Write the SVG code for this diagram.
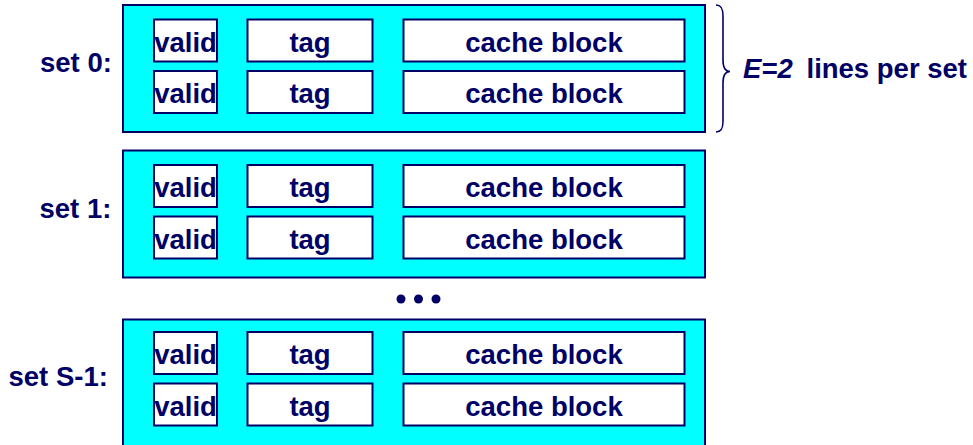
<svg xmlns="http://www.w3.org/2000/svg" width="973" height="445" viewBox="0 0 973 445">
<style>
.set{fill:#00FFFF;stroke:#000066;stroke-width:2}
.box{fill:#FFFFFF;stroke:#000066;stroke-width:2}
text{font-family:"Liberation Sans",Arial,sans-serif;font-weight:bold;font-size:27.5px;fill:#000066}
.c{text-anchor:middle}
.brace{fill:none;stroke:#000066;stroke-width:1.6}
</style>
<defs>
<g id="line">
<rect class="box" x="154" y="0" width="63" height="42"/>
<text class="c" x="185.5" y="32">valid</text>
<rect class="box" x="247.5" y="0" width="125" height="42"/>
<text class="c" x="310" y="32">tag</text>
<rect class="box" x="403.5" y="0" width="281" height="42"/>
<text class="c" x="544" y="32">cache block</text>
</g>
</defs>
<rect width="973" height="445" fill="#FFFFFF"/>
<g id="set0">
<text x="40" y="72">set 0:</text>
<rect class="set" x="123" y="5" width="582" height="127"/>
<g id="set0-line0"><use href="#line" y="19.5"/></g>
<g id="set0-line1"><use href="#line" y="71"/></g>
</g>
<g id="set1">
<text x="39.5" y="217.5">set 1:</text>
<rect class="set" x="123" y="150.5" width="582" height="127"/>
<g id="set1-line0"><use href="#line" y="165"/></g>
<g id="set1-line1"><use href="#line" y="216.5"/></g>
</g>
<g id="dots" fill="#000066">
<circle cx="401" cy="299" r="4.5"/>
<circle cx="418.5" cy="299" r="4.5"/>
<circle cx="436" cy="299" r="4.5"/>
</g>
<g id="setS1">
<text x="8.5" y="386">set S-1:</text>
<rect class="set" x="123" y="319.5" width="582" height="127"/>
<g id="setS1-line0"><use href="#line" y="332"/></g>
<g id="setS1-line1"><use href="#line" y="383.5"/></g>
</g>
<g id="connectors">
<path class="brace" d="M716,5 C721,5 723,8 723,16 L723,60 C723,68 725,71.5 730,71.5 C725,71.5 723,75 723,83 L723,121 C723,129 721,132 716,132"/>
</g>
<g id="label">
<text x="743" y="78"><tspan font-style="italic">E=2</tspan></text>
<text x="806.5" y="78">lines per set</text>
</g>
</svg>
